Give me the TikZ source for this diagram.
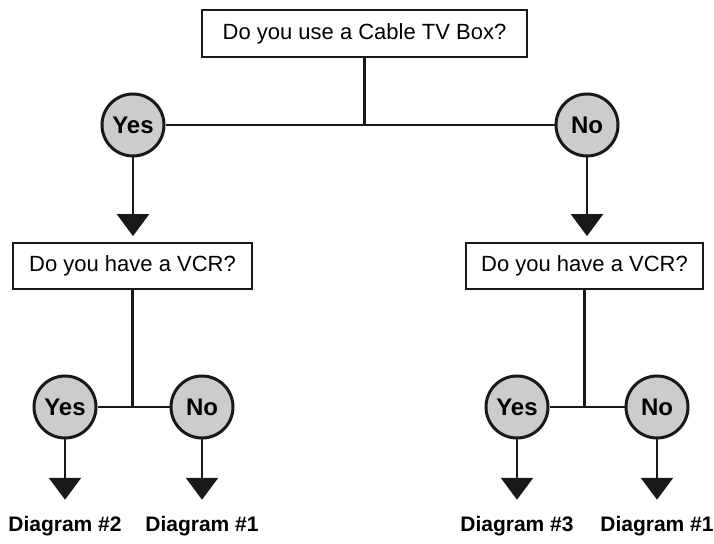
\documentclass[tikz,border=0pt]{standalone}
\usepackage{fontspec}
\setmainfont{Liberation Sans}
\usetikzlibrary{arrows.meta}

\begin{document}
\begin{tikzpicture}[x=0.5pt, y=-0.5pt, draw=black!90]
        \tikzstyle{question}=[rectangle,draw,line width=0.9pt,fill=white,font=\fontsize{11}{13}\selectfont,inner sep=0pt]
        \tikzstyle{answer}=[circle,draw,fill=black!20,minimum size=31pt,inner sep=0pt,line width=1.5pt,font=\fontsize{12}{14}\selectfont\bfseries]
        \tikzstyle{result}=[inner sep=0pt,font=\fontsize{10.5}{12}\selectfont\bfseries]
        \tikzstyle{link}=[line width=1.3pt]
        \tikzstyle{down}=[link,-{Triangle[length=11pt,width=16pt]}]

        \useasboundingbox (0,0) rectangle (714,544);

        % Draw the question boxes
        \node[question, minimum width=162.5pt, minimum height=23.5pt] (Q-top) at (364.5,33.5) {Do you use a Cable TV Box?};
        \node[question, minimum width=119.5pt, minimum height=23pt] (Q-1) at (132.5,266) {Do you have a VCR?};
        \node[question, minimum width=118.5pt, minimum height=23pt] (Q-2) at (584.5,266) {Do you have a VCR?};

        % Draw the answer circles
        \node[answer] (A-yes) at (133,125) {Yes};
        \node[answer] (A-no) at (587,125) {No};
        \foreach \name / \x / \txt in {1-yes/65/Yes, 1-no/202/No, 2-yes/517/Yes, 2-no/657/No}
            \node[answer] (A-\name) at (\x,407) {\txt};

        % Draw the results below the last answers
        \foreach \name / \x / \num in {1-yes/65/2, 1-no/202/1, 2-yes/517/3, 2-no/657/1}
            \node[result] (R-\name) at (\x,526) {Diagram \#\num};

        % Connect every question with its two answers
        \draw[link] (Q-top.south) -- (Q-top.south |- A-yes);
        \draw[link] (A-yes) -- (A-no);
        \foreach \q in {1,2} {
            \draw[link] (Q-\q.south) -- (Q-\q.south |- A-\q-yes);
            \draw[link] (A-\q-yes) -- (A-\q-no);
        }

        % Arrows from the answers down to the next step
        \draw[down, shorten >=3pt] (A-yes) -- (Q-1.north -| A-yes);
        \draw[down, shorten >=3pt] (A-no) -- (Q-2.north -| A-no);
        \foreach \name in {1-yes,1-no,2-yes,2-no}
            \draw[down, shorten >=8pt] (A-\name) -- (R-\name);
    \end{tikzpicture}
\end{document}
